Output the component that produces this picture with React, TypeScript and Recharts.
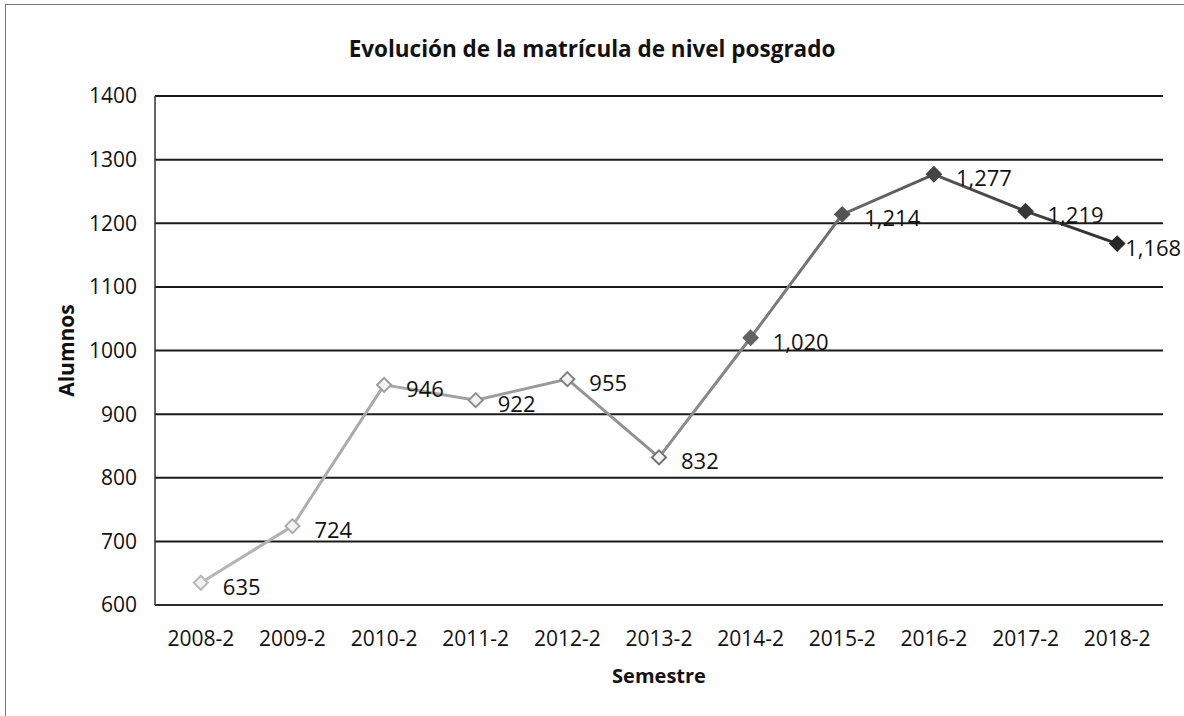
import React from 'react';
import { LineChart, Line, XAxis, YAxis, CartesianGrid, LabelList, Label } from 'recharts';

const semestres = ['2008-2', '2009-2', '2010-2', '2011-2', '2012-2', '2013-2', '2014-2', '2015-2', '2016-2', '2017-2', '2018-2'];
const alumnos = [635, 724, 946, 922, 955, 832, 1020, 1214, 1277, 1219, 1168];
const yTicks = [600, 700, 800, 900, 1000, 1100, 1200, 1300, 1400];

const data = semestres.map((s, i) => ({ semestre: s, alumnos: alumnos[i] }));

const FONT = '"Open Sans", "Noto Sans", sans-serif';

const shade = (i: number) => {
  const t = i / (semestres.length - 1);
  const c = Math.round(185 - t * 145);
  return `rgb(${c},${c},${c})`;
};

const Diamond = (props: any) => {
  const { cx, cy, index } = props;
  if (cx == null || cy == null) return null;
  const r = 7;
  const col = shade(index);
  return (
    <path
      d={`M${cx},${cy - r} L${cx + r},${cy} L${cx},${cy + r} L${cx - r},${cy} Z`}
      fill={index > 5 ? col : '#f2f2f2'}
      stroke={col}
      strokeWidth={2}
    />
  );
};

const YLabel = (props: any) => {
  const { viewBox } = props;
  const x = 66;
  const y = viewBox.y + viewBox.height / 2;
  return (
    <text x={x} y={y} transform={`rotate(-90 ${x} ${y})`} textAnchor="middle" dominantBaseline="central" fontFamily={FONT} fontWeight={700} fontSize={21} fill="#111">
      Alumnos
    </text>
  );
};

const ValueLabel = (props: any) => {
  const { x, y, width, height, value, index } = props;
  const cx = x + (width || 0) / 2;
  const cy = y + (height || 0) / 2;
  const last = index === semestres.length - 1;
  return (
    <text x={cx + (last ? 8 : 22)} y={cy + 3} dominantBaseline="central" textAnchor="start" fontFamily={FONT} fontSize={22} fill="#111">
      {Number(value).toLocaleString('en-US')}
    </text>
  );
};

export default function App() {
  return (
    <div style={{ position: 'absolute', left: 0, top: 0, width: 1184, height: 716, background: '#fff', overflow: 'hidden' }}>
      <div style={{ position: 'absolute', left: 5, top: 4, width: 1200, height: 740, borderLeft: '1px solid #777', borderTop: '1px solid #777' }} />
      <div style={{ position: 'absolute', left: 0, top: 33, width: 1184, textAlign: 'center', fontFamily: FONT, fontWeight: 700, fontSize: 22.5, lineHeight: '32px', color: '#111' }}>
        Evolución de la matrícula de nivel posgrado
      </div>
      <LineChart width={1184} height={716} data={data} margin={{ top: 96, right: 21, bottom: 81, left: 80 }}>
        <defs>
          <linearGradient id="lineGrad" x1="0" y1="0" x2="1" y2="0">
            <stop offset="0%" stopColor="#b8b8b8" />
            <stop offset="55%" stopColor="#8a8a8a" />
            <stop offset="100%" stopColor="#2e2e2e" />
          </linearGradient>
        </defs>
        <CartesianGrid vertical={false} stroke="#1a1a1a" strokeWidth={2} />
        <XAxis
          dataKey="semestre"
          scale="band"
          tickSize={0}
          tickMargin={26}
          axisLine={{ stroke: '#333', strokeWidth: 1.5 }}
          tick={{ fontFamily: FONT, fontSize: 21, fill: '#111' }}
          height={30}
          interval={0}
        >
          <Label value="Semestre" position="bottom" offset={34} style={{ fontFamily: FONT, fontWeight: 700, fontSize: 20, fill: '#111' }} />
        </XAxis>
        <YAxis
          domain={[600, 1400]}
          ticks={yTicks}
          tickSize={0}
          tickMargin={18}
          width={75}
          axisLine={{ stroke: '#333', strokeWidth: 1.5 }}
          tick={{ fontFamily: FONT, fontSize: 21, fill: '#111' }}
          label={<YLabel />}
        />
        <Line
          type="linear"
          dataKey="alumnos"
          stroke="url(#lineGrad)"
          strokeWidth={3}
          dot={<Diamond />}
          isAnimationActive={false}
        >
          <LabelList dataKey="alumnos" content={<ValueLabel />} />
        </Line>
      </LineChart>
    </div>
  );
}
